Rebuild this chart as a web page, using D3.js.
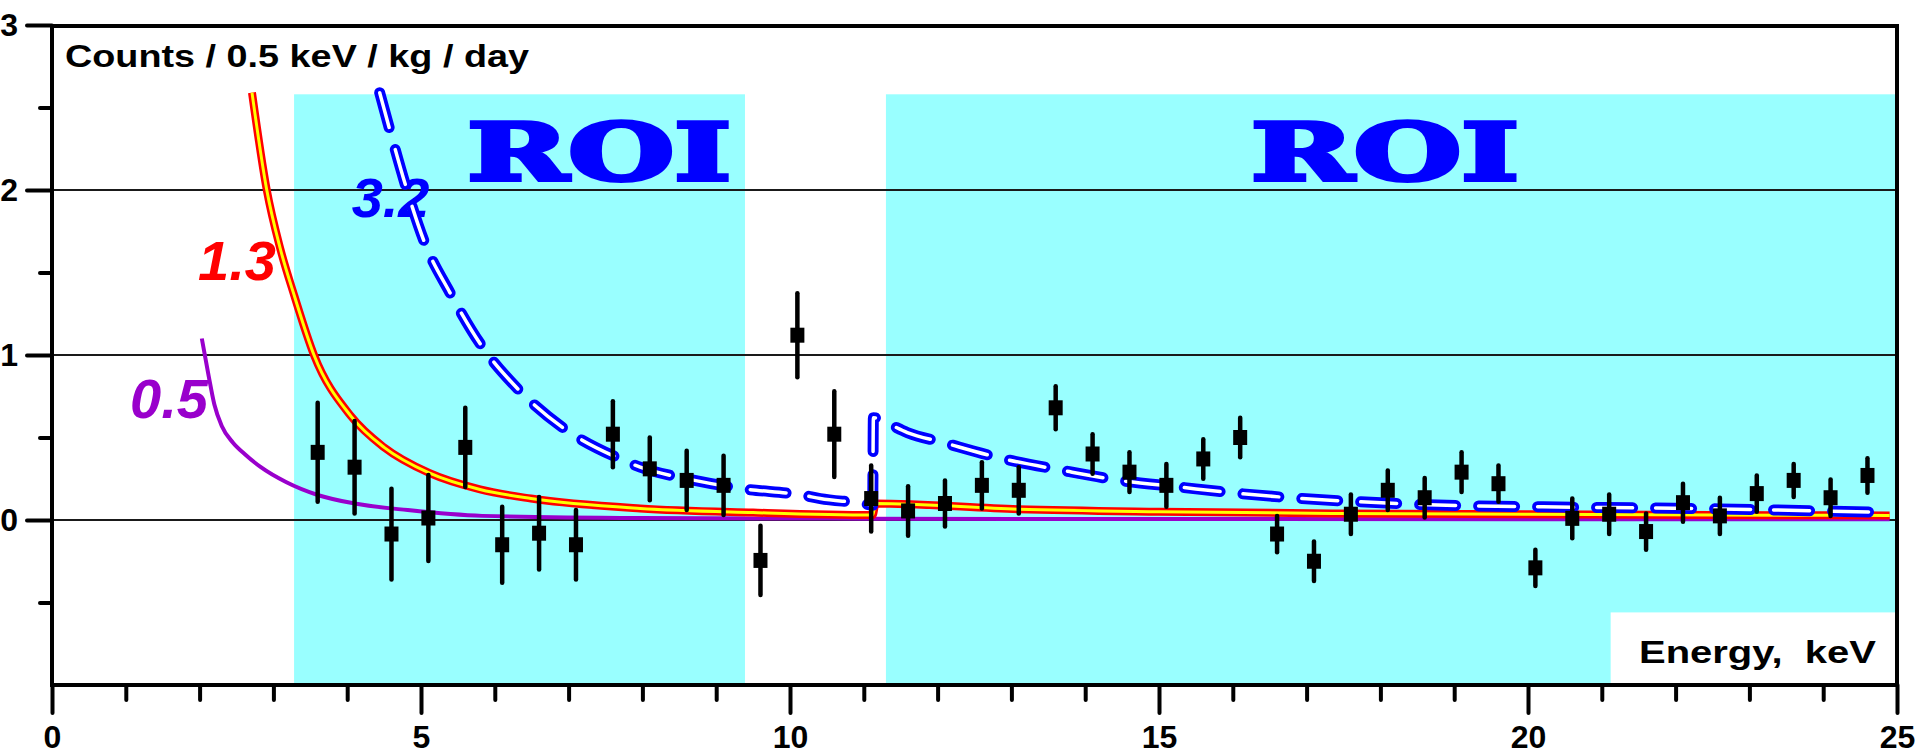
<!DOCTYPE html>
<html><head><meta charset="utf-8">
<script src="https://cdn.jsdelivr.net/npm/d3@7"></script>
<style>html,body{margin:0;padding:0;background:#fff;} svg{display:block;}</style>
</head><body>
<script>
// ---------- data ----------
const energy = [3.6,4.1,4.6,5.1,5.6,6.1,6.6,7.1,7.6,8.1,8.6,9.1,9.6,10.1,10.6,11.1,11.6,12.1,12.6,13.1,13.6,14.1,14.6,15.1,15.6,16.1,16.6,17.1,17.6,18.1,18.6,19.1,19.6,20.1,20.6,21.1,21.6,22.1,22.6,23.1,23.6,24.1,24.6];
const counts = [0.41,0.32,-0.085,0.012,0.44,-0.15,-0.08,-0.15,0.52,0.31,0.24,0.21,-0.245,1.12,0.52,0.13,0.055,0.10,0.21,0.18,0.68,0.40,0.29,0.21,0.37,0.50,-0.085,-0.25,0.035,0.18,0.135,0.29,0.22,-0.29,0.01,0.035,-0.07,0.105,0.025,0.16,0.24,0.135,0.27];
const errors = [0.30,0.28,0.275,0.26,0.24,0.23,0.22,0.21,0.20,0.19,0.18,0.18,0.21,0.255,0.26,0.20,0.15,0.14,0.14,0.14,0.13,0.12,0.12,0.13,0.12,0.12,0.11,0.12,0.12,0.12,0.12,0.12,0.11,0.11,0.12,0.12,0.11,0.115,0.11,0.11,0.10,0.11,0.105];

const curve05E = [2.03,2.12,2.20,2.30,2.45,2.61,2.83,3.17,3.61,4.1,4.82,5.83,7.97,11,15,20,24.9];
const curve05Y = [1.10,0.88,0.70,0.57,0.47,0.40,0.32,0.23,0.15,0.10,0.06,0.025,0.012,0.008,0.006,0.005,0.005];
const curve13E = [2.71,2.91,3.09,3.29,3.55,4.05,4.5,5.11,5.8,6.49,7.97,9.5,11.12,11.16,13.1,15,17.4,20,22.5,24.9];
const curve13Y = [2.59,2.0,1.65,1.35,1.0,0.63,0.44,0.285,0.185,0.13,0.07,0.045,0.03,0.10,0.065,0.05,0.04,0.035,0.03,0.028];
const curve32E = [4.44,4.58,4.81,5.05,5.39,5.83,6.3,6.92,7.70,7.97,8.6,9.35,10.18,10.41,10.99,11.12,11.13,11.3,11.59,12.07,12.9,13.7,14.47,15.27,16.1,16.94,17.73,18.5,19.33,20.2,22.6,24.9];
const curve32Y = [2.59,2.36,2.0,1.68,1.38,1.05,0.80,0.56,0.37,0.32,0.25,0.19,0.15,0.13,0.10,0.09,0.62,0.59,0.53,0.47,0.37,0.30,0.24,0.20,0.16,0.13,0.11,0.095,0.085,0.08,0.067,0.045];
const curveLabels = ["0.5","1.3","3.2"];

const roiStart = [3.28, 11.3];
const roiEnd = [9.39, 25];
const roiTop = 2.58;
const roiLabel = "ROI";

const xMajorTicks = [0,5,10,15,20,25];
const xMinorTicks = [1,2,3,4,6,7,8,9,11,12,13,14,16,17,18,19,21,22,23,24];
const yMajorTicks = [0,1,2,3];
const yMinorTicks = [-0.5,0.5,1.5,2.5];
const gridValues = [0,1,2];
const yTitle = "Counts / 0.5 keV / kg / day";
const xTitle = "Energy,  keV";

// ---------- layout ----------
const W = 1920, H = 756;
const x = d3.scaleLinear().domain([0,25]).range([52,1897]);
const y = d3.scaleLinear().domain([-1,3]).range([685,25]);
const CYAN = "#99ffff", BLUE = "#0000ff", RED = "#ff0000", YEL = "#ffff00", PURP = "#9900cc";
const sans = "'Liberation Sans', Arial, sans-serif";

const svg = d3.select("body").append("svg").attr("width",W).attr("height",H);
svg.append("rect").attr("width",W).attr("height",H).attr("fill","#fff");

// ROI regions
svg.selectAll("rect.roi").data(roiStart).enter().append("rect").attr("class","roi")
  .attr("x",(d)=>x(d)).attr("width",(d,i)=>x(roiEnd[i])-x(d))
  .attr("y",y(roiTop)).attr("height",y(-1)-y(roiTop)).attr("fill",CYAN);

// white box for x title
svg.append("rect").attr("x",x(21.12)).attr("y",y(-0.56)).attr("width",x(25)-x(21.12)).attr("height",y(-1)-y(-0.56)).attr("fill","#fff");

// grid
svg.selectAll("line.grid").data(gridValues).enter().append("line")
  .attr("x1",x(0)).attr("x2",x(25)).attr("y1",d=>y(d)).attr("y2",d=>y(d))
  .attr("stroke","#1a1a1a").attr("stroke-width",2);

// ROI labels
const roiLabelE = [5.6, 16.22];
const roiLabelW = [268, 272];
svg.selectAll("text.roi").data(roiLabelE).enter().append("text")
  .attr("x",d=>x(d)+2).attr("y",y(2.048)-2)
  .attr("font-family","'DejaVu Serif', serif").attr("font-weight","bold").attr("font-size",78)
  .attr("fill",BLUE).attr("stroke",BLUE).attr("stroke-width",4).attr("stroke-linejoin","miter")
  .attr("textLength",(d,i)=>roiLabelW[i]-4).attr("lengthAdjust","spacingAndGlyphs")
  .text(roiLabel);

// curve labels
const labelPos = [[1.057,0.618,PURP],[1.98,1.455,RED],[4.06,1.836,BLUE]];
svg.selectAll("text.cl").data(curveLabels).enter().append("text")
  .attr("x",(d,i)=>x(labelPos[i][0])).attr("y",(d,i)=>y(labelPos[i][1]))
  .attr("font-family",sans).attr("font-weight","bold").attr("font-style","italic").attr("font-size",56)
  .attr("fill",(d,i)=>labelPos[i][2]).text(d=>d);

// curves
const line = d3.line().x(d=>x(d[0])).y(d=>y(d[1])).curve(d3.curveMonotoneX);
const c05 = curve05E.map((e,i)=>[e,curve05Y[i]]);
const c13 = curve13E.map((e,i)=>[e,curve13Y[i]]);
const c32 = curve32E.map((e,i)=>[e,curve32Y[i]]);

svg.append("path").attr("d",line(c05)).attr("fill","none").attr("stroke",PURP).attr("stroke-width",4);
svg.append("path").attr("d",line(c13)).attr("fill","none").attr("stroke",RED).attr("stroke-width",8);
svg.append("path").attr("d",line(c13)).attr("fill","none").attr("stroke",YEL).attr("stroke-width",3);
svg.append("path").attr("d",line(c32)).attr("fill","none").attr("stroke",BLUE).attr("stroke-width",11)
  .attr("stroke-dasharray","36,23").attr("stroke-linecap","round").attr("stroke-linejoin","round");
svg.append("path").attr("d",line(c32)).attr("fill","none").attr("stroke","#fff").attr("stroke-width",3.5)
  .attr("stroke-dasharray","36,23").attr("stroke-linecap","round").attr("stroke-linejoin","round");

// data points with error bars
const pts = energy.map((e,i)=>({e:e,v:counts[i],s:errors[i]}));
const g = svg.append("g");
g.selectAll("line.err").data(pts).enter().append("line")
  .attr("x1",d=>x(d.e)).attr("x2",d=>x(d.e)).attr("y1",d=>y(d.v+d.s)).attr("y2",d=>y(d.v-d.s))
  .attr("stroke","#000").attr("stroke-width",4.5).attr("stroke-linecap","round");
g.selectAll("rect.pt").data(pts).enter().append("rect")
  .attr("x",d=>x(d.e)-7).attr("y",d=>y(d.v)-7.5).attr("width",14).attr("height",15).attr("fill","#000");

// frame
svg.append("rect").attr("x",x(0)).attr("y",y(3)+1).attr("width",x(25)-x(0)).attr("height",y(-1)-y(3)-1)
  .attr("fill","none").attr("stroke","#000").attr("stroke-width",4);

// axes
function styleAxis(sel){
  sel.select(".domain").remove();
  sel.selectAll(".tick line").attr("stroke","#000").attr("stroke-width",4).attr("stroke-linecap","round");
  sel.selectAll(".tick text").attr("font-family",sans).attr("font-weight","bold").attr("font-size",32).attr("fill","#000");
}
const xa1 = svg.append("g").attr("transform",`translate(0,${y(-1)})`)
  .call(d3.axisBottom(x).tickValues(xMinorTicks).tickSize(15).tickFormat(""));
styleAxis(xa1);
const xa2 = svg.append("g").attr("transform",`translate(0,${y(-1)})`)
  .call(d3.axisBottom(x).tickValues(xMajorTicks).tickSize(28).tickPadding(12).tickFormat(d3.format("d")));
styleAxis(xa2);
const ya1 = svg.append("g").attr("transform",`translate(${x(0)},0)`)
  .call(d3.axisLeft(y).tickValues(yMinorTicks).tickSize(12).tickFormat(""));
styleAxis(ya1);
const ya2 = svg.append("g").attr("transform",`translate(${x(0)},0)`)
  .call(d3.axisLeft(y).tickValues(yMajorTicks).tickSize(25).tickPadding(9).tickFormat(d3.format("d")));
styleAxis(ya2);

// titles
svg.append("text").attr("x",65).attr("y",67).attr("font-family",sans).attr("font-weight","bold")
  .attr("font-size",31).attr("textLength",464).attr("lengthAdjust","spacingAndGlyphs").text(yTitle);
svg.append("text").attr("x",1639).attr("y",663).attr("font-family",sans).attr("font-weight","bold")
  .attr("font-size",32).style("white-space","pre").attr("textLength",237).attr("lengthAdjust","spacingAndGlyphs").text(xTitle);
</script>
</body></html>
